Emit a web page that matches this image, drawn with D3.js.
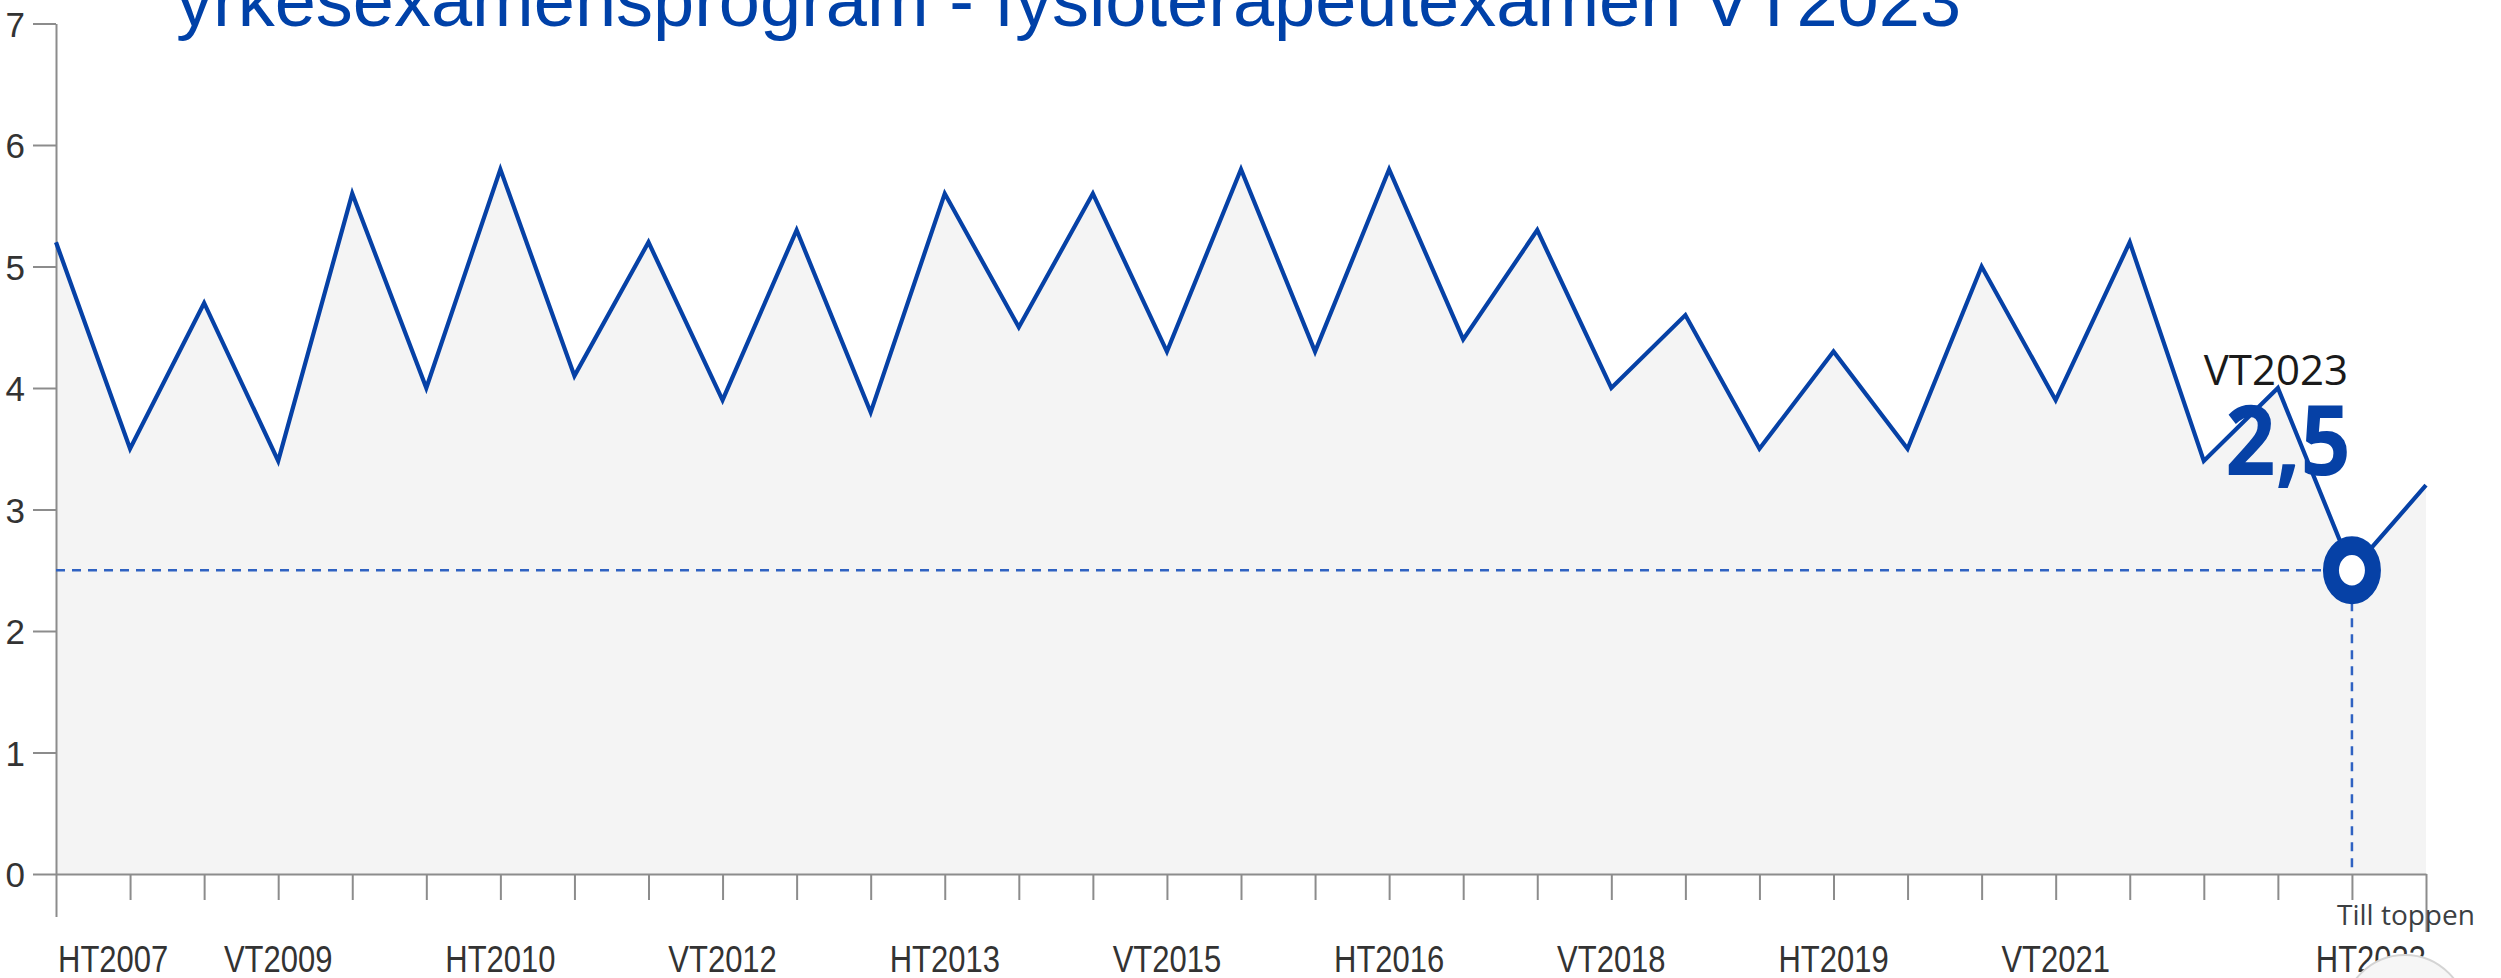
<!DOCTYPE html>
<html>
<head>
<meta charset="utf-8">
<script src="https://cdn.jsdelivr.net/npm/d3@7"></script>
<style>
  html, body { margin: 0; padding: 0; background: #fff; overflow: hidden; }
  svg { display: block; }
</style>
</head>
<body>
<svg id="chart"></svg>
<script>
// terms on the x axis, one per data point
const periods = [
  'HT2007', 'VT2008', 'HT2008', 'VT2009', 'HT2009', 'VT2010', 'HT2010',
  'VT2011', 'HT2011', 'VT2012', 'HT2012', 'VT2013', 'HT2013', 'VT2014',
  'HT2014', 'VT2015', 'HT2015', 'VT2016', 'HT2016', 'VT2017', 'HT2017',
  'VT2018', 'HT2018', 'VT2019', 'HT2019', 'VT2020', 'HT2020', 'VT2021',
  'HT2021', 'VT2022', 'HT2022', 'VT2023', 'HT2023'
];

const values = [
  5.2, 3.5, 4.7, 3.4, 5.6, 4.0, 5.8, 4.1, 5.2, 3.9, 5.3,
  3.8, 5.6, 4.5, 5.6, 4.3, 5.8, 4.3, 5.8, 4.4, 5.3, 4.0,
  4.6, 3.5, 4.3, 3.5, 5.0, 3.9, 5.2, 3.4, 4.0, 2.5, 3.2
];

// labels printed under the axis
const tickLabels = [
  'HT2007', 'VT2009', 'HT2010', 'VT2012', 'HT2013', 'VT2015',
  'HT2016', 'VT2018', 'HT2019', 'VT2021', 'HT2023'
];

const yTicks = [0, 1, 2, 3, 4, 5, 6, 7];

const highlight = 'VT2023';
const highlightText = '2,5';
const title = 'yrkesexamensprogram - fysioterapeutexamen VT2023';

const width = 2501;
const height = 978;

const blue = '#0641a6';
const axisGrey = '#8c8c8c';

const svg = d3.select('#chart')
    .attr('width', width)
    .attr('height', height);

const x = d3.scalePoint()
    .domain(periods)
    .range([56, 2426]);

const y = d3.scaleLinear()
    .domain([0, 7])
    .range([874, 23.5]);

const data = periods.map((p, i) => ({ period: p, value: values[i] }));

// grey area under the line
const area = d3.area()
    .x(d => x(d.period))
    .y0(y(0))
    .y1(d => y(d.value));

svg.append('path')
    .datum(data)
    .attr('fill', '#f4f4f4')
    .attr('d', area);

// y axis
const yAxis = svg.append('g')
    .attr('transform', `translate(${x(periods[0])},0)`)
    .call(d3.axisLeft(y).tickValues(yTicks).tickFormat(d3.format('d'))
      .tickSize(23).tickSizeOuter(0).tickPadding(8));

yAxis.select('.domain').attr('stroke', axisGrey).attr('stroke-width', 2);
yAxis.selectAll('.tick line').attr('stroke', axisGrey).attr('stroke-width', 2);
yAxis.selectAll('.tick text')
    .attr('fill', '#333')
    .attr('font-family', '"Liberation Sans", Arial, sans-serif')
    .attr('font-size', 35)
    .attr('dy', '0.36em');

// x axis, ticks only
const xAxis = svg.append('g')
    .attr('transform', `translate(0,${y(0)})`)
    .call(d3.axisBottom(x).tickSize(26).tickSizeOuter(0).tickFormat(''));

xAxis.select('.domain').attr('stroke', axisGrey).attr('stroke-width', 2);
xAxis.selectAll('.tick line').attr('stroke', axisGrey).attr('stroke-width', 2)
    .attr('y2', (d, i) => i === 0 ? 43 : (i === periods.length - 1 ? 58 : 26));

// x labels
const first = periods[0];
const last = periods[periods.length - 1];
svg.append('g')
  .selectAll('text')
  .data(tickLabels)
  .join('text')
    .attr('transform', d => {
      const px = d === first ? x(d) + 2 : x(d);
      return `translate(${px},972) scale(1,1.18)`;
    })
    .attr('text-anchor', d => d === first ? 'start' : (d === last ? 'end' : 'middle'))
    .attr('fill', '#333')
    .attr('font-family', '"Liberation Sans", Arial, sans-serif')
    .attr('font-size', 31)
    .text(d => d);

// highlight guides
const hv = values[periods.indexOf(highlight)];
const hx = x(highlight);
const hy = y(hv);

svg.append('line')
    .attr('x1', x(periods[0])).attr('x2', hx)
    .attr('y1', hy).attr('y2', hy)
    .attr('stroke', '#2f62c2').attr('stroke-width', 2.5)
    .attr('stroke-dasharray', '9,7');

svg.append('line')
    .attr('x1', hx).attr('x2', hx)
    .attr('y1', hy).attr('y2', y(0))
    .attr('stroke', '#2f62c2').attr('stroke-width', 2.5)
    .attr('stroke-dasharray', '9,7');

// the line
const line = d3.line()
    .x(d => x(d.period))
    .y(d => y(d.value));

svg.append('path')
    .datum(data)
    .attr('fill', 'none')
    .attr('stroke', blue)
    .attr('stroke-width', 4.2)
    .attr('stroke-linejoin', 'miter')
    .attr('d', line);

// marker ring
svg.append('circle')
    .attr('transform', `translate(${hx},${hy}) scale(1,1.17)`)
    .attr('r', 21)
    .attr('fill', '#fff')
    .attr('stroke', blue)
    .attr('stroke-width', 16);

// value and term label
svg.append('text')
    .attr('x', hx - 4)
    .attr('y', 385)
    .attr('text-anchor', 'end')
    .attr('fill', '#1a1a1a')
    .attr('font-family', '"Open Sans", sans-serif')
    .attr('font-size', 42)
    .text(highlight);

svg.append('text')
    .attr('transform', `translate(${hx - 1},475) scale(1,1.1)`)
    .attr('text-anchor', 'end')
    .attr('fill', blue)
    .attr('font-family', '"Open Sans", sans-serif')
    .attr('font-weight', 700)
    .attr('font-size', 88)
    .text(highlightText);

// title, cut by the top edge
svg.append('text')
    .attr('x', 176)
    .attr('y', 26)
    .attr('fill', '#0041a8')
    .attr('font-family', '"Liberation Sans", Arial, sans-serif')
    .attr('font-size', 74)
    .text(title);

// "back to top" button overlay
svg.append('text')
    .attr('x', 2337)
    .attr('y', 925)
    .attr('fill', '#3c4043')
    .attr('font-family', '"Open Sans", sans-serif')
    .attr('font-size', 28)
    .text('Till toppen');

svg.append('circle')
    .attr('cx', 2405)
    .attr('cy', 1017)
    .attr('r', 62)
    .attr('fill', '#f6f6f6')
    .attr('stroke', '#d4d4d4')
    .attr('stroke-width', 2);
</script>
</body>
</html>
